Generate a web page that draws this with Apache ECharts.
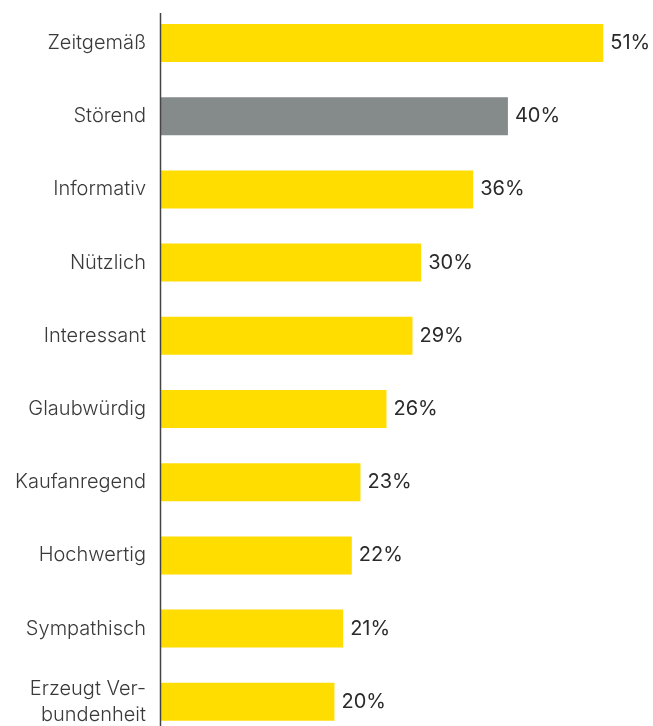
<!DOCTYPE html>
<html>
<head>
<meta charset="utf-8">
<script src="https://cdn.jsdelivr.net/npm/echarts@6/dist/echarts.min.js"></script>
<style>
  html, body { margin: 0; padding: 0; background: #fff; overflow: hidden; }
  /* the last category band runs a little past the bottom of the window */
  #chart { width: 653px; height: 740px; }
</style>
</head>
<body>
<div id="chart"></div>
<script>
// Survey answers, top to bottom
const categories = [
  'Zeitgemäß', 'Störend', 'Informativ', 'Nützlich', 'Interessant',
  'Glaubwürdig', 'Kaufanregend', 'Hochwertig', 'Sympathisch', 'Erzeugt Ver-\nbundenheit'
];
const values = [51, 40, 36, 30, 29, 26, 23, 22, 21, 20];
// Answers shown in grey instead of yellow
const highlighted = ['Störend'];

const YELLOW = '#FFDD00';
const GREY = '#858A8B';

const chart = echarts.init(document.getElementById('chart'), null, { renderer: 'canvas' });

chart.setOption({
  animation: false,
  grid: { left: 161, top: 6.4, width: 477, height: 732, containLabel: false },
  xAxis: {
    type: 'value',
    min: 0,
    max: 55,
    show: false
  },
  yAxis: {
    type: 'category',
    data: categories,
    inverse: true,
    axisLine: { show: false },
    axisTick: { show: false },
    axisLabel: {
      margin: 15,
      color: '#3a3a3a',
      fontFamily: 'Inter',
      fontSize: 20,
      fontWeight: 300,
      lineHeight: 26,
      align: 'right'
    }
  },
  // baseline rule, starting slightly below the top of the first band
  graphic: [{
    type: 'line',
    shape: { x1: 160.5, y1: 13, x2: 160.5, y2: 740 },
    style: { stroke: '#444', lineWidth: 1.5 },
    z: 10
  }],
  series: [{
    type: 'bar',
    data: values.map((v, i) => ({
      value: v,
      itemStyle: { color: highlighted.includes(categories[i]) ? GREY : YELLOW }
    })),
    barWidth: 38,
    label: {
      show: true,
      position: 'right',
      distance: 7,
      formatter: p => p.value + '%',
      color: '#2a2a2a',
      fontFamily: 'Inter',
      fontSize: 20,
      fontWeight: 400
    }
  }]
});
</script>
</body>
</html>
